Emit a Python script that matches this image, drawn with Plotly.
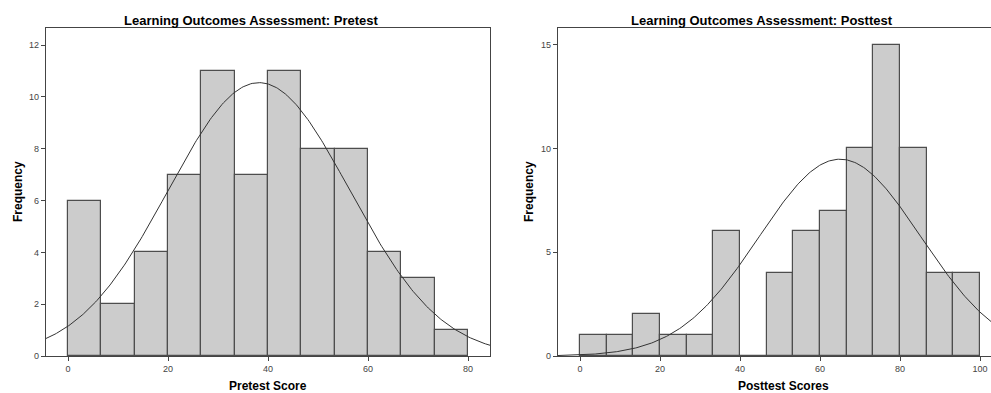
import numpy as np
import plotly.graph_objects as go

# ---- data ----
pre_counts = [6, 2, 4, 7, 11, 7, 11, 8, 8, 4, 3, 1]
pre_bin_start = 0.0
pre_bin_width = 80 / 12
pre_mean, pre_sd = 38.2, 18.15

post_counts = [1, 1, 2, 1, 1, 6, 0, 4, 6, 7, 10, 15, 10, 4, 4]
post_bin_start = 0.0
post_bin_width = 100 / 15
post_mean, post_sd = 65.0, 20.2

pre_xticks = [0, 20, 40, 60, 80]
pre_yticks = [0, 2, 4, 6, 8, 10, 12]
post_xticks = [0, 20, 40, 60, 80, 100]
post_yticks = [0, 5, 10, 15]

W, H = 991, 393
BAR_FILL = "#cccccc"
BAR_LINE = "#4d4d4d"
AX = "#444444"
FONT = "Liberation Sans, Arial, sans-serif"

def centers(start, width, n):
    return [start + width * (i + 0.5) for i in range(n)]

def normal_curve(counts, width, mean, sd, lo, hi):
    n = sum(counts)
    xs = np.linspace(lo, hi, 300)
    ys = n * width / (sd * np.sqrt(2 * np.pi)) * np.exp(-((xs - mean) ** 2) / (2 * sd ** 2))
    return xs, ys

fig = go.Figure()

# pretest
fig.add_trace(go.Bar(x=centers(pre_bin_start, pre_bin_width, len(pre_counts)), y=pre_counts,
                     width=pre_bin_width, marker=dict(color=BAR_FILL, line=dict(color=BAR_LINE, width=1.2)),
                     xaxis="x", yaxis="y", showlegend=False, hoverinfo="skip"))
px_, py_ = normal_curve(pre_counts, pre_bin_width, pre_mean, pre_sd, -5, 85)
fig.add_trace(go.Scatter(x=px_, y=py_, mode="lines", line=dict(color="#333333", width=1),
                         xaxis="x", yaxis="y", showlegend=False, hoverinfo="skip"))

# posttest
fig.add_trace(go.Bar(x=centers(post_bin_start, post_bin_width, len(post_counts)), y=post_counts,
                     width=post_bin_width, marker=dict(color=BAR_FILL, line=dict(color=BAR_LINE, width=1.2)),
                     xaxis="x2", yaxis="y2", showlegend=False, hoverinfo="skip"))
qx_, qy_ = normal_curve(post_counts, post_bin_width, post_mean, post_sd, -6, 104)
fig.add_trace(go.Scatter(x=qx_, y=qy_, mode="lines", line=dict(color="#333333", width=1),
                         xaxis="x2", yaxis="y2", showlegend=False, hoverinfo="skip"))

ydom = [1 - 356 / H, 1 - 28 / H]
common = dict(showgrid=False, zeroline=False, showline=True, linecolor=AX, linewidth=1.2,
              ticks="outside", ticklen=4, tickcolor=AX, automargin=False,
              tickfont=dict(size=9, color="#444444", family=FONT))

fig.update_layout(
    template="none",
    width=W, height=H,
    margin=dict(l=0, r=0, t=0, b=0),
    paper_bgcolor="white", plot_bgcolor="white",
    bargap=0,
    font=dict(family=FONT),
    xaxis=dict(domain=[46 / W, 490 / W], range=[-4.4, 84.4], tickvals=pre_xticks, anchor="y", mirror=True, **common),
    yaxis=dict(domain=ydom, range=[0, 12.66], tickvals=pre_yticks, anchor="x", mirror=True, **common),
    xaxis2=dict(domain=[558 / W, 1.0], range=[-5.5, 102.75], tickvals=post_xticks, anchor="y2", mirror=True, **common),
    yaxis2=dict(domain=ydom, range=[0, 15.8], tickvals=post_yticks, anchor="x2", mirror=False, **common),
)

def ann(text, x, y, size=12, angle=0):
    fig.add_annotation(text=f"<b>{text}</b>", x=x / W, y=1 - y / H, xref="paper", yref="paper",
                       showarrow=False, textangle=angle,
                       font=dict(size=size, color="#000000", family=FONT),
                       xanchor="center", yanchor="middle")

ann("Learning Outcomes Assessment: Pretest", 251, 20, size=13)
ann("Learning Outcomes Assessment: Posttest", 762, 20, size=13)
ann("Pretest Score", 268, 386)
ann("Posttest Scores", 783, 386)
ann("Frequency", 18, 192, angle=-90)
ann("Frequency", 529, 192, angle=-90)

fig.write_html("out.html", config={"displayModeBar": False},
               post_script="document.body.style.margin='0';document.body.style.overflow='hidden';")
